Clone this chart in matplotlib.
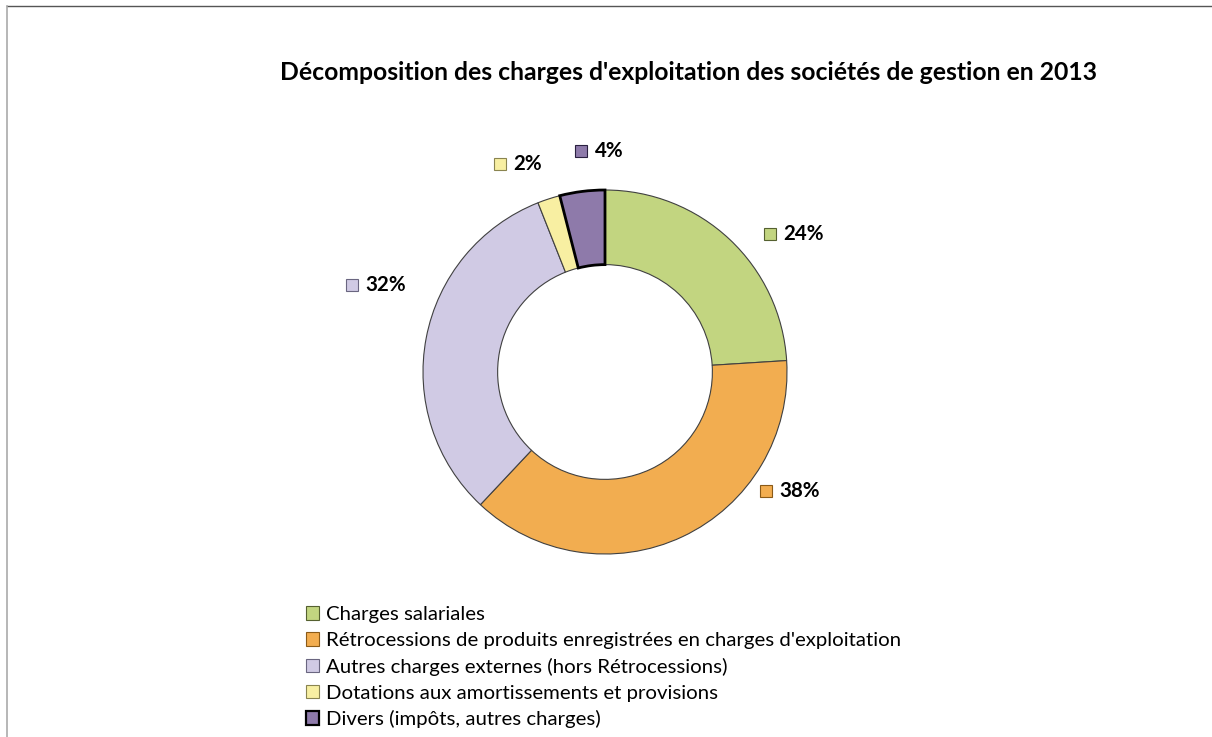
import matplotlib.pyplot as plt
from matplotlib.patches import Patch
from matplotlib.lines import Line2D

plt.rcParams['font.family'] = ['Lato', 'DejaVu Sans']

categories = ["Charges salariales",
              "Rétrocessions de produits enregistrées en charges d'exploitation",
              "Autres charges externes (hors Rétrocessions)",
              "Dotations aux amortissements et provisions",
              "Divers (impôts, autres charges)"]
values = [24, 38, 32, 2, 4]
colors = ['#C2D580', '#F2AD50', '#D0CAE4', '#F8EFA2', '#8E7AAA']
edges = ['#556030', '#8a5a18', '#6a6680', '#8a8450', '#2a2040']

# label anchors (outer radius = 1)
label_pos = [(0.907, 0.758), (0.885, -0.654), (-1.392, 0.478),
             (-0.577, 1.143), (-0.132, 1.214)]

W, H = 1212, 737
cx, cy, R = 605, 372, 182

fig = plt.figure(figsize=(W / 100, H / 100), dpi=100)
ax = fig.add_axes([0, 0, 1, 1])
ax.axis('off')

wedges, _ = ax.pie(values, colors=colors, startangle=90, counterclock=False,
                   radius=1, wedgeprops=dict(width=0.41, edgecolor='#404040', linewidth=0.8))
wedges[4].set_edgecolor('black')
wedges[4].set_linewidth(2)
wedges[4].set_zorder(3)
ax.set_aspect('auto')
ax.set_xlim(-cx / R, (W - cx) / R)
ax.set_ylim((cy - H) / R, cy / R)

for (x, y), v, c, e in zip(label_pos, values, colors, edges):
    ax.plot([x], [y], marker='s', markersize=9, color=c, markeredgecolor=e, markeredgewidth=0.8)
    ax.text(x + 0.075, y, f"{v}%", fontsize=14.8, fontweight='bold', va='center', ha='left')

fig.text(688 / W, 1 - 73 / H, "Décomposition des charges d'exploitation des sociétés de gestion en 2013",
         fontsize=17.8, fontweight='bold', ha='center', va='center')

handles = [Patch(facecolor=c, edgecolor=e, linewidth=0.8) for c, e in zip(colors, edges)]
handles[4] = Patch(facecolor=colors[4], edgecolor='black', linewidth=1.6)
fig.legend(handles, categories, loc='upper left', bbox_to_anchor=(298 / W, 1 - 598 / H),
           frameon=False, fontsize=14.7, handlelength=0.65, handleheight=0.65,
           handletextpad=0.3, labelspacing=0.43, borderaxespad=0)

# chart frame
fig.add_artist(Line2D([7 / W, 1], [1 - 6 / H, 1 - 6 / H], color='#555555', linewidth=1))
fig.add_artist(Line2D([7 / W, 7 / W], [0, 1 - 6 / H], color='#aaaaaa', linewidth=1.2))

fig.savefig('out.png', dpi=100)
